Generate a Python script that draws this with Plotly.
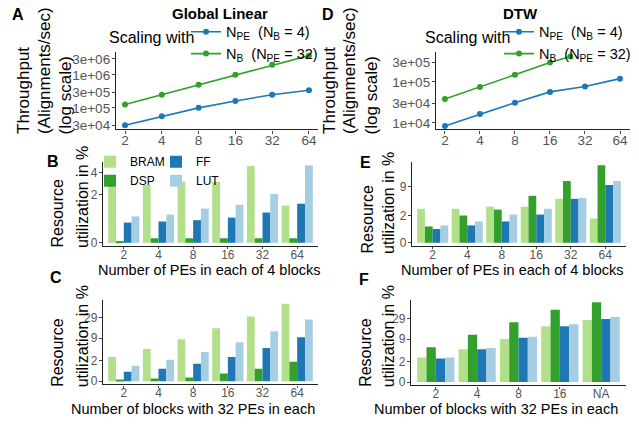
import numpy as np
import plotly.graph_objects as go

W, H = 639, 424


def px(x):
    return x / W


def py(y):
    return 1 - y / H


FONT = "Liberation Sans, Arial, sans-serif"

# ---------------- data ----------------
# Throughput (alignments/sec)
gl_npe_x = [2, 4, 8, 16, 32, 64]
gl_npe_tp = [3.0e4, 5.6e4, 1.0e5, 1.62e5, 2.5e5, 3.4e5]
gl_nb_x = [2, 4, 8, 16, 32, 64]
gl_nb_tp = [1.26e5, 2.5e5, 5.0e5, 1.0e6, 2.0e6, 3.8e6]

dtw_npe_x = [2, 4, 8, 16, 32, 64]
dtw_npe_tp = [8.3e3, 1.63e4, 3.1e4, 5.7e4, 7.7e4, 1.2e5]
dtw_nb_x = [2, 4, 8, 16, 24]
dtw_nb_tp = [3.8e4, 7.5e4, 1.5e5, 2.96e5, 4.15e5]

tp_xticks = [2, 4, 8, 16, 32, 64]
gl_tp_yticks = [3e4, 1e5, 3e5, 1e6, 3e6]
dtw_tp_yticks = [1e4, 3e4, 1e5, 3e5]

# Resource utilization (%)
resources = ["BRAM", "DSP", "FF", "LUT"]
res_colors = ["#b2df8a", "#33a02c", "#1f78b4", "#a6cee3"]

gl_pe_cats = ["2", "4", "8", "16", "32", "64"]
gl_pe_bram = [2.76, 2.76, 3.05, 3.05, 4.8, 1.34]
gl_pe_dsp = [0.02, 0.11, 0.11, 0.11, 0.11, 0.11]
gl_pe_ff = [0.59, 0.63, 0.68, 0.78, 1.0, 1.45]
gl_pe_lut = [0.83, 0.91, 1.19, 1.39, 2.07, 4.9]

gl_blk_cats = ["2", "4", "8", "16", "32", "64"]
gl_blk_bram = [2.66, 4.58, 8.44, 15.9, 30.7, 61.8]
gl_blk_dsp = [0.09, 0.15, 0.21, 0.5, 0.95, 1.82]
gl_blk_ff = [0.66, 0.95, 1.53, 2.66, 4.88, 9.5]
gl_blk_lut = [1.28, 2.13, 3.77, 7.06, 13.4, 26.0]

dtw_pe_cats = ["2", "4", "8", "16", "32", "64"]
dtw_pe_bram = [3.0, 3.0, 3.36, 3.36, 5.0, 1.69]
dtw_pe_dsp = [0.95, 2.04, 2.87, 5.78, 11.4, 22.6]
dtw_pe_ff = [0.75, 1.03, 1.39, 2.16, 5.0, 9.55]
dtw_pe_lut = [1.03, 1.39, 2.16, 3.0, 5.26, 11.4]

dtw_blk_cats = ["2", "4", "8", "16", "NA"]
dtw_blk_bram = [2.75, 4.85, 9.1, 18.9, 26.9]
dtw_blk_dsp = [5.5, 11.7, 23.9, 47.7, 71.0]
dtw_blk_ff = [2.55, 4.85, 9.8, 18.9, 28.4]
dtw_blk_lut = [2.75, 5.2, 10.4, 21.3, 31.9]

ticks_b = [0, 2, 4]
ticks_e = [0, 2, 9]
ticks_cf = [0, 2, 9, 29]

BLUE = "#1f78b4"
GREEN = "#33a02c"

fig = go.Figure()


# ---------------- line panels ----------------
def add_lines(xa, ya, legend, npe_x, npe_y, nb_x, nb_y):
    fig.add_trace(go.Scatter(
        x=npe_x, y=npe_y, mode="lines+markers", xaxis=xa, yaxis=ya,
        name="N<sub>PE</sub>  (N<sub>B</sub> = 4)", legend=legend,
        line=dict(color=BLUE, width=1.6), marker=dict(color=BLUE, size=6)))
    fig.add_trace(go.Scatter(
        x=nb_x, y=nb_y, mode="lines+markers", xaxis=xa, yaxis=ya,
        name="N<sub>B</sub>  (N<sub>PE</sub> = 32)", legend=legend,
        line=dict(color=GREEN, width=1.6), marker=dict(color=GREEN, size=6)))


add_lines("x", "y", "legend", gl_npe_x, gl_npe_tp, gl_nb_x, gl_nb_tp)
add_lines("x2", "y2", "legend2", dtw_npe_x, dtw_npe_tp, dtw_nb_x, dtw_nb_tp)


# ---------------- bar panels (pseudo-log axis: log(1 + %)) ----------------
def add_bars(xa, ya, cats, series, show):
    for i, (name, vals) in enumerate(zip(resources, series)):
        fig.add_trace(go.Bar(
            x=cats, y=np.log1p(np.array(vals)), xaxis=xa, yaxis=ya,
            name=name, marker=dict(color=res_colors[i], line=dict(width=0)),
            showlegend=show, legend=("legend3" if i in (0, 1) else "legend4"),
            legendrank=i, customdata=vals,
            hovertemplate="%{x}: %{customdata}%<extra>" + name + "</extra>"))


add_bars("x3", "y3", gl_pe_cats, [gl_pe_bram, gl_pe_dsp, gl_pe_ff, gl_pe_lut], True)
add_bars("x4", "y4", dtw_pe_cats, [dtw_pe_bram, dtw_pe_dsp, dtw_pe_ff, dtw_pe_lut], False)
add_bars("x5", "y5", gl_blk_cats, [gl_blk_bram, gl_blk_dsp, gl_blk_ff, gl_blk_lut], False)
add_bars("x6", "y6", dtw_blk_cats, [dtw_blk_bram, dtw_blk_dsp, dtw_blk_ff, dtw_blk_lut], False)

# ---------------- axes ----------------
axis_common = dict(showline=True, linecolor="#222", linewidth=1.3, showgrid=False,
                   zeroline=False, ticks="outside", ticklen=3, tickcolor="#444")
line_tick_font = dict(family=FONT, size=13.5, color="#555")
bar_tick_font = dict(family=FONT, size=12, color="#555")


def e_fmt(v):
    m, e = ("%.0e" % v).split("e")
    return "%se+%02d" % (m, int(e))


layout_axes = {}
# A
layout_axes["xaxis"] = dict(axis_common, domain=[px(116), px(318)], anchor="y", type="log",
                            range=[np.log10(2) - 0.074, np.log10(64) + 0.074],
                            tickvals=tp_xticks, ticktext=[str(v) for v in tp_xticks],
                            tickfont=line_tick_font, ticklabelstandoff=-5)
layout_axes["yaxis"] = dict(axis_common, domain=[py(130), py(52)], anchor="x", type="log",
                            range=[4.347, 6.677], tickvals=gl_tp_yticks,
                            ticktext=[e_fmt(v) for v in gl_tp_yticks],
                            tickfont=line_tick_font, ticklabelstandoff=-1)
# D
layout_axes["xaxis2"] = dict(axis_common, domain=[px(436), px(630)], anchor="y2", type="log",
                             range=[np.log10(2) - 0.077, np.log10(64) + 0.086],
                             tickvals=tp_xticks, ticktext=[str(v) for v in tp_xticks],
                             tickfont=line_tick_font, ticklabelstandoff=-5)
layout_axes["yaxis2"] = dict(axis_common, domain=[py(130), py(52)], anchor="x2", type="log",
                             range=[3.837, 5.721], tickvals=dtw_tp_yticks,
                             ticktext=[e_fmt(v) for v in dtw_tp_yticks],
                             tickfont=line_tick_font, ticklabelstandoff=-1)


def bar_axes(n, xdom, ydom, ncat, yr, ticks):
    layout_axes["xaxis%d" % n] = dict(axis_common, domain=xdom, anchor="y%d" % n,
                                      type="category", range=[-0.6, ncat - 0.4],
                                      ticklen=2, tickfont=bar_tick_font, ticklabelstandoff=-5)
    layout_axes["yaxis%d" % n] = dict(axis_common, domain=ydom, anchor="x%d" % n,
                                      range=yr, tickvals=list(np.log1p(ticks)),
                                      ticktext=[str(t) for t in ticks],
                                      tickfont=bar_tick_font, ticklabelstandoff=-1)


bar_axes(3, [px(103), px(318)], [py(248), py(163)], len(gl_pe_cats), [-0.075, 1.85], ticks_b)
bar_axes(4, [px(412), px(626)], [py(248), py(163)], len(dtw_pe_cats), [-0.134, 3.29], ticks_e)
bar_axes(5, [px(103), px(318)], [py(388), py(303)], len(gl_blk_cats), [-0.175, 4.32], ticks_cf)
bar_axes(6, [px(411), px(626)], [py(389), py(303)], len(dtw_blk_cats), [-0.18, 4.38], ticks_cf)

# ---------------- annotations ----------------
ann = []


def text(x, y, s, size=16, bold=False, angle=0, xanchor="center", yanchor="middle", color="#000"):
    ann.append(dict(x=px(x), y=py(y), xref="paper", yref="paper",
                    text=("<b>%s</b>" % s if bold else s),
                    showarrow=False, textangle=angle, xanchor=xanchor, yanchor=yanchor,
                    font=dict(family=FONT, size=size, color=color)))


# panel letters
text(18, 14, "A", 16, True)
text(328, 14, "D", 16, True)
text(53, 162, "B", 16, True)
text(56, 280, "C", 16, True)
text(365, 163, "E", 16, True)
text(364, 282, "F", 16, True)

# titles
text(220, 13, "Global Linear", 15, True)
text(520, 13, "DTW", 15, True)

# legend titles
text(151, 37, "Scaling with", 16)
text(467, 37, "Scaling with", 16)

# y titles (line panels)
text(24, 137, "Throughput", 17, angle=-90, yanchor="bottom")
text(45, 137, "(Alignments/sec)", 17, angle=-90, yanchor="bottom")
text(65, 137, "(log scale)", 17, angle=-90, yanchor="bottom")
text(330, 137, "Throughput", 17, angle=-90, yanchor="bottom")
text(350, 137, "(Alignments/sec)", 17, angle=-90, yanchor="bottom")
text(371, 137, "(log scale)", 17, angle=-90, yanchor="bottom")

# y titles (bar panels)
for (x1, x2, yb) in [(58, 82, 252), (58, 82, 393), (367, 389, 258), (366, 388, 393)]:
    text(x1, yb, "Resource", 16, angle=-90, yanchor="bottom")
    text(x2, yb, "utilization in %", 16, angle=-90, yanchor="bottom")

# x titles (bar panels)
text(209, 272, "Number of PEs in each of 4 blocks", 14.5)
text(512, 272, "Number of PEs in each of 4 blocks", 14.5)
text(193, 413, "Number of blocks with 32 PEs in each", 14.5)
text(496, 413, "Number of blocks with 32 PEs in each", 14.5)

leg_common = dict(bgcolor="rgba(0,0,0,0)", borderwidth=0, itemwidth=30,
                  xanchor="left", yanchor="top", tracegroupgap=0)

fig.update_layout(
    width=W, height=H, margin=dict(l=0, r=0, t=0, b=0),
    paper_bgcolor="white", plot_bgcolor="white",
    font=dict(family=FONT, size=12, color="#000"),
    barmode="group", bargap=0.1, bargroupgap=0,
    annotations=ann,
    legend=dict(leg_common, x=px(186), y=py(15), font=dict(family=FONT, size=14.5)),
    legend2=dict(leg_common, x=px(499), y=py(15), font=dict(family=FONT, size=14.5)),
    legend3=dict(leg_common, x=px(90), y=py(148), font=dict(family=FONT, size=12)),
    legend4=dict(leg_common, x=px(156), y=py(148), font=dict(family=FONT, size=12)),
    **layout_axes,
)

fig.write_html("out.html", config={"displayModeBar": False},
               post_script="document.body.style.margin='0px';")
